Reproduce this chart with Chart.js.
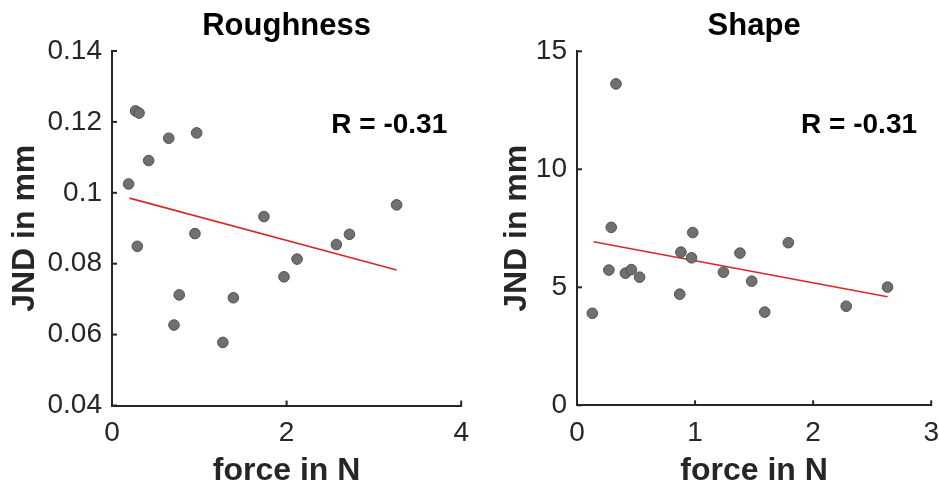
<!DOCTYPE html>
<html>
<head>
<meta charset="utf-8">
<script src="https://cdn.jsdelivr.net/npm/chart.js@4/dist/chart.umd.min.js"></script>
<style>
  html, body { margin: 0; padding: 0; background: #fff; overflow: hidden; width: 939px; height: 488px; }
  canvas { position: absolute; top: 0; }
  #c1 { left: 0; }
  #c2 { left: 480px; }
</style>
</head>
<body>
<canvas id="c1" width="480" height="488"></canvas>
<canvas id="c2" width="470" height="488"></canvas>
<script>
// ---------- data ----------
const roughTitle = "Roughness";
const roughForce = [0.27, 0.31, 0.65, 0.97, 0.42, 0.19, 0.29, 0.95, 1.74, 3.26, 2.57, 2.72, 2.12, 1.97, 0.77, 1.39, 0.71, 1.27];
const roughJND   = [0.1231, 0.1225, 0.1154, 0.1169, 0.1091, 0.1025, 0.0849, 0.0885, 0.0933, 0.0966, 0.0854, 0.0883, 0.0813, 0.0763, 0.0712, 0.0704, 0.0627, 0.0578];
const roughFitX  = [0.20, 3.26];
const roughFitY  = [0.0985, 0.0782];
const roughXTicks = [0, 2, 4];
const roughYTicks = [0.04, 0.06, 0.08, 0.1, 0.12, 0.14];
const roughR = "R = -0.31";

const shapeTitle = "Shape";
const shapeForce = [0.33, 0.29, 0.98, 1.79, 0.88, 0.97, 1.38, 0.27, 0.41, 0.46, 0.53, 1.24, 1.48, 0.87, 2.63, 2.28, 0.13, 1.59];
const shapeJND   = [13.62, 7.54, 7.32, 6.89, 6.49, 6.25, 6.45, 5.73, 5.60, 5.75, 5.43, 5.64, 5.26, 4.71, 5.01, 4.20, 3.90, 3.95];
const shapeFitX  = [0.14, 2.63];
const shapeFitY  = [6.93, 4.60];
const shapeXTicks = [0, 1, 2, 3];
const shapeYTicks = [0, 5, 10, 15];
const shapeR = "R = -0.31";

const xLabel = "force in N";
const yLabel = "JND in mm";

// ---------- helpers ----------
const FONT = '"Liberation Sans", Arial, Helvetica, sans-serif';
const AXIS = '#262626';

const inwardTicks = {
  id: 'inwardTicks',
  afterDraw(chart, args, opts) {
    const { ctx, chartArea: a, scales: { x, y } } = chart;
    ctx.save();
    ctx.strokeStyle = AXIS;
    ctx.lineWidth = 2;
    x.ticks.forEach(t => {
      const px = x.getPixelForValue(t.value);
      ctx.beginPath(); ctx.moveTo(px, a.bottom); ctx.lineTo(px, a.bottom - 5); ctx.stroke();
    });
    y.ticks.forEach(t => {
      const py = y.getPixelForValue(t.value);
      ctx.beginPath(); ctx.moveTo(a.left, py); ctx.lineTo(a.left + 5, py); ctx.stroke();
    });
    if (opts && opts.text) {
      ctx.font = 'bold 28px ' + FONT;
      ctx.fillStyle = '#000';
      ctx.textAlign = 'right';
      ctx.textBaseline = 'alphabetic';
      ctx.fillText(opts.text, x.getPixelForValue(opts.x), y.getPixelForValue(opts.y));
    }
    ctx.restore();
  }
};

function fmt(v) { return String(+(+v).toFixed(2)); }

function makeChart(id, cfg) {
  const pts = cfg.xs.map((v, i) => ({ x: v, y: cfg.ys[i] }));
  const fit = cfg.fx.map((v, i) => ({ x: v, y: cfg.fy[i] }));
  return new Chart(document.getElementById(id), {
    type: 'scatter',
    data: {
      datasets: [
        {
          type: 'scatter',
          data: pts,
          pointRadius: 5.3,
          pointHoverRadius: 5.3,
          backgroundColor: '#707070',
          borderColor: '#505050',
          borderWidth: 1,
          order: 0
        },
        {
          type: 'line',
          data: fit,
          borderColor: '#d42a2a',
          borderWidth: 1.6,
          pointRadius: 0,
          fill: false,
          tension: 0,
          order: 1
        }
      ]
    },
    options: {
      responsive: false,
      animation: false,
      devicePixelRatio: 1,
      layout: { padding: { top: 0, left: 0, right: cfg.padRight, bottom: 0 } },
      plugins: {
        legend: { display: false },
        tooltip: { enabled: false },
        title: {
          display: true,
          text: cfg.title,
          fullSize: false,
          color: '#000',
          font: { family: FONT, size: 31, weight: 'bold', lineHeight: 1 },
          padding: { top: 11, bottom: cfg.titleBottom }
        },
        inwardTicks: { text: cfg.rText, x: cfg.rx, y: cfg.ry }
      },
      scales: {
        x: {
          type: 'linear',
          min: cfg.xTicks[0],
          max: cfg.xTicks[cfg.xTicks.length - 1],
          afterBuildTicks: s => { s.ticks = cfg.xTicks.map(v => ({ value: v })); },
          afterFit: s => { s.height = cfg.xHeight; },
          grid: { drawOnChartArea: false, drawTicks: false, color: AXIS },
          border: { display: true, color: AXIS, width: 2 },
          ticks: { color: AXIS, padding: 11, font: { family: FONT, size: 28 }, callback: v => fmt(v), maxRotation: 0, autoSkip: false },
          title: {
            display: true, text: xLabel, color: AXIS,
            font: { family: FONT, size: 32, weight: 'bold', lineHeight: 1 },
            padding: { top: 0, bottom: 1 }
          }
        },
        y: {
          type: 'linear',
          min: cfg.yTicks[0],
          max: cfg.yTicks[cfg.yTicks.length - 1],
          afterBuildTicks: s => { s.ticks = cfg.yTicks.map(v => ({ value: v })); },
          afterFit: s => { s.width = cfg.yWidth; },
          grid: { drawOnChartArea: false, drawTicks: false, color: AXIS },
          border: { display: true, color: AXIS, width: 2 },
          ticks: { color: AXIS, padding: 10, font: { family: FONT, size: 28 }, callback: v => fmt(v), autoSkip: false },
          title: {
            display: true, text: yLabel, color: AXIS,
            font: { family: FONT, size: 32, weight: 'bold', lineHeight: 1 },
            padding: { top: cfg.yTitlePad, bottom: 0 }
          }
        }
      }
    },
    plugins: [inwardTicks]
  });
}

makeChart('c1', {
  title: roughTitle, xs: roughForce, ys: roughJND, fx: roughFitX, fy: roughFitY,
  xTicks: roughXTicks, yTicks: roughYTicks,
  rText: roughR, rx: 3.84, ry: 0.117,
  yWidth: 112, xHeight: 82.5, padRight: 15, titleBottom: 9, yTitlePad: 9
});

makeChart('c2', {
  title: shapeTitle, xs: shapeForce, ys: shapeJND, fx: shapeFitX, fy: shapeFitY,
  xTicks: shapeXTicks, yTicks: shapeYTicks,
  rText: shapeR, rx: 2.88, ry: 11.52,
  yWidth: 97, xHeight: 82.7, padRight: 17, titleBottom: 9.3, yTitlePad: 21.5
});
</script>
</body>
</html>
